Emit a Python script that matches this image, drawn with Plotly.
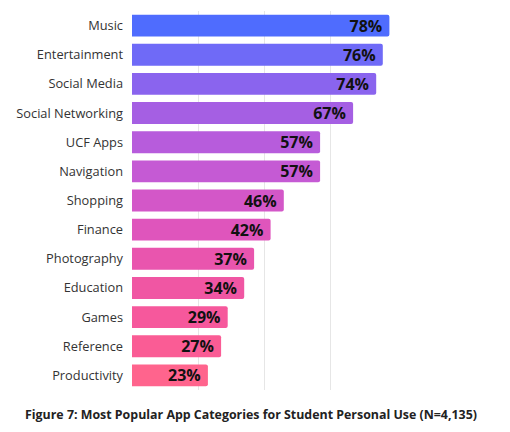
import plotly.graph_objects as go

categories = ["Music", "Entertainment", "Social Media", "Social Networking", "UCF Apps",
              "Navigation", "Shopping", "Finance", "Photography", "Education",
              "Games", "Reference", "Productivity"]
values = [78, 76, 74, 67, 57, 57, 46, 42, 37, 34, 29, 27, 23]
colors = ["#4F6CFE", "#6F6AF7", "#8A64EE", "#A55FE3", "#B75CDC", "#C55AD4",
          "#D357C8", "#DF55BC", "#E955AE", "#F056A3", "#F6589C", "#FA5C95", "#FF648D"]
title = "Figure 7: Most Popular App Categories for Student Personal Use (N=4,135)"

# the page body has an 8px margin, so the figure is a bit smaller than the window
W, H = 502, 424
L, R, T, B = 124, 114, 3, 42

fig = go.Figure()
fig.add_trace(go.Bar(
    x=values, y=categories,
    orientation="h",
    marker=dict(color=colors, cornerradius=2, line=dict(width=0)),
    texttemplate="<b>%{x}%</b>\u00a0",
    textposition="inside",
    insidetextanchor="end",
    constraintext="none",
    textangle=0,
    textfont=dict(family="Open Sans", size=16, color="#111111"),
    hoverinfo="skip",
))

fig.update_layout(
    width=W, height=H,
    margin=dict(l=L, r=R, t=T, b=B, autoexpand=False),
    paper_bgcolor="white", plot_bgcolor="white",
    bargap=0.25,
    showlegend=False,
    font=dict(family="Open Sans", color="#333333"),
    xaxis=dict(range=[0, 80], dtick=20, showgrid=True, gridcolor="#e6e6e6", gridwidth=1,
               zeroline=False, showticklabels=False, fixedrange=True, automargin=False),
    yaxis=dict(autorange="reversed", ticks="", ticklabelstandoff=8,
               tickfont=dict(size=12.8, color="#333333"),
               showgrid=False, fixedrange=True, automargin=False),
    annotations=[dict(
        text="<b>" + title + "</b>",
        xref="paper", yref="paper", x=(W / 2 - 8 - L) / (W - L - R), y=0,
        xanchor="center", yanchor="top",
        yshift=-14, showarrow=False,
        font=dict(family="Open Sans", size=12.4, color="#222222"),
    )],
)

fig.write_html("out.html")
